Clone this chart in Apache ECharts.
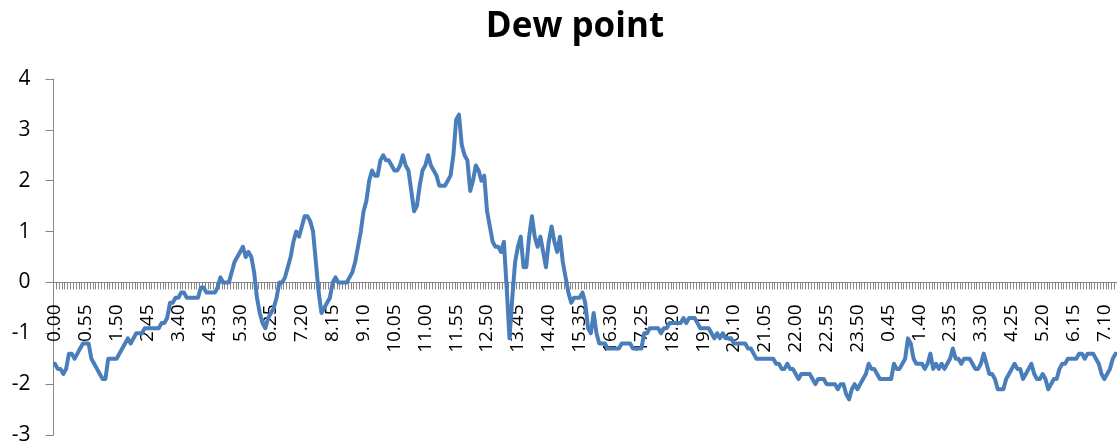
<!DOCTYPE html>
<html>
<head>
<meta charset="utf-8">
<script src="https://cdn.jsdelivr.net/npm/echarts@6/dist/echarts.min.js"></script>
<style>
  html, body { margin: 0; padding: 0; background: #fff; }
  #chart { width: 1117px; height: 448px; }
</style>
</head>
<body>
<div id="chart"></div>
<script>
// dew point readings, one every 5 minutes starting at 0:00
const dewPoint = [
  -1.6, -1.7, -1.7, -1.8, -1.7, -1.4, -1.4, -1.5, -1.4, -1.3,
  -1.2, -1.2, -1.2, -1.5, -1.6, -1.7, -1.8, -1.9, -1.9, -1.5,
  -1.5, -1.5, -1.5, -1.4, -1.3, -1.2, -1.1, -1.2, -1.1, -1.0,
  -1.0, -1.0, -0.9, -0.9, -0.9, -0.9, -0.9, -0.9, -0.8, -0.8,
  -0.7, -0.4, -0.4, -0.3, -0.3, -0.2, -0.2, -0.3, -0.3, -0.3,
  -0.3, -0.3, -0.1, -0.1, -0.2, -0.2, -0.2, -0.2, -0.1, 0.1,
  0.0, 0.0, 0.0, 0.2, 0.4, 0.5, 0.6, 0.7, 0.5, 0.6,
  0.5, 0.2, -0.3, -0.6, -0.8, -0.9, -0.7, -0.6, -0.5, -0.3,
  0.0, 0.0, 0.1, 0.3, 0.5, 0.8, 1.0, 0.9, 1.1, 1.3,
  1.3, 1.2, 1.0, 0.4, -0.2, -0.6, -0.5, -0.4, -0.3, 0.0,
  0.1, 0.0, 0.0, 0.0, 0.0, 0.1, 0.2, 0.4, 0.7, 1.0,
  1.4, 1.6, 2.0, 2.2, 2.1, 2.1, 2.4, 2.5, 2.4, 2.4,
  2.3, 2.2, 2.2, 2.3, 2.5, 2.3, 2.2, 1.8, 1.4, 1.5,
  1.9, 2.2, 2.3, 2.5, 2.3, 2.2, 2.1, 1.9, 1.9, 1.9,
  2.0, 2.1, 2.5, 3.2, 3.3, 2.7, 2.5, 2.4, 1.8, 2.0,
  2.3, 2.2, 2.0, 2.1, 1.4, 1.1, 0.8, 0.7, 0.7, 0.6,
  0.8, -0.1, -1.1, -0.3, 0.4, 0.7, 0.9, 0.3, 0.3, 0.9,
  1.3, 0.9, 0.7, 0.9, 0.6, 0.3, 0.8, 1.1, 0.8, 0.6,
  0.9, 0.4, 0.1, -0.2, -0.4, -0.3, -0.3, -0.3, -0.2, -0.4,
  -0.9, -1.0, -0.6, -1.0, -1.2, -1.2, -1.2, -1.3, -1.3, -1.3,
  -1.3, -1.3, -1.2, -1.2, -1.2, -1.2, -1.3, -1.3, -1.3, -1.3,
  -1.0, -1.0, -0.9, -0.9, -0.9, -0.9, -1.0, -0.9, -0.9, -0.8,
  -0.8, -0.8, -0.8, -0.8, -0.7, -0.8, -0.7, -0.7, -0.7, -0.8,
  -0.9, -0.9, -0.9, -0.9, -1.0, -1.1, -1.0, -1.1, -1.0, -1.1,
  -1.1, -1.1, -1.2, -1.2, -1.2, -1.2, -1.2, -1.3, -1.3, -1.4,
  -1.5, -1.5, -1.5, -1.5, -1.5, -1.5, -1.5, -1.6, -1.6, -1.7,
  -1.7, -1.6, -1.7, -1.7, -1.8, -1.9, -1.8, -1.8, -1.8, -1.8,
  -1.9, -2.0, -1.9, -1.9, -1.9, -2.0, -2.0, -2.0, -2.0, -2.1,
  -2.0, -2.0, -2.2, -2.3, -2.1, -2.0, -2.1, -2.0, -1.9, -1.8,
  -1.6, -1.7, -1.7, -1.8, -1.9, -1.9, -1.9, -1.9, -1.9, -1.6,
  -1.7, -1.7, -1.6, -1.5, -1.1, -1.2, -1.5, -1.6, -1.6, -1.6,
  -1.7, -1.6, -1.4, -1.7, -1.6, -1.7, -1.6, -1.7, -1.6, -1.5,
  -1.3, -1.5, -1.5, -1.6, -1.5, -1.5, -1.5, -1.6, -1.7, -1.7,
  -1.6, -1.4, -1.6, -1.8, -1.8, -1.9, -2.1, -2.1, -2.1, -1.9,
  -1.8, -1.7, -1.6, -1.7, -1.7, -1.9, -1.8, -1.7, -1.6, -1.8,
  -1.9, -1.9, -1.8, -1.9, -2.1, -2.0, -1.9, -1.9, -1.7, -1.6,
  -1.6, -1.5, -1.5, -1.5, -1.5, -1.4, -1.4, -1.5, -1.4, -1.4,
  -1.4, -1.5, -1.6, -1.8, -1.9, -1.8, -1.7, -1.5, -1.4
]

const startMinutes = 0
const stepMinutes = 5
const labelEvery = 11
const yTicks = { min: -3, max: 4, interval: 1 }

// time labels like Excel shows them: 0.00, 0.55, 13.45 ...
const times = dewPoint.map((_v, i) => {
  const t = (startMinutes + i * stepMinutes) % (24 * 60)
  const h = Math.floor(t / 60)
  const m = t % 60
  return h + '.' + (m < 10 ? '0' + m : m)
})

const axisGray = '#868686'
const labelFont = '"Open Sans", "Noto Sans", sans-serif'

const gridTop = 79
const gridBottom = 13
const plotHeight = 448 - gridTop - gridBottom
// x axis crosses at 0: lift it from the bottom edge by the -3..0 share
const zeroLift = plotHeight * (0 - yTicks.min) / (yTicks.max - yTicks.min)

const chart = echarts.init(document.getElementById('chart'))
chart.setOption({
  animation: false,
  title: {
    text: 'Dew point',
    left: 570,
    textAlign: 'center',
    top: 5,
    textStyle: {
      fontFamily: labelFont,
      fontWeight: 'bold',
      fontSize: 35,
      color: '#000'
    }
  },
  grid: {
    left: 53.5,
    right: 0,
    top: gridTop,
    bottom: gridBottom,
    outerBoundsMode: 'none',
    containLabel: false
  },
  xAxis: {
    type: 'category',
    data: times,
    boundaryGap: true,
    position: 'bottom',
    offset: -zeroLift,
    axisLine: {
      onZero: false,
      lineStyle: { color: axisGray, width: 1 }
    },
    axisTick: {
      show: true,
      interval: 0,
      length: 7,
      lineStyle: { color: axisGray, width: 1 }
    },
    axisLabel: {
      interval: labelEvery - 1,
      rotate: 90,
      margin: 22,
      fontFamily: labelFont,
      fontSize: 19,
      color: '#000'
    },
    splitLine: { show: false }
  },
  yAxis: {
    type: 'value',
    min: yTicks.min,
    max: yTicks.max,
    interval: yTicks.interval,
    axisLine: {
      show: true,
      lineStyle: { color: axisGray, width: 1 }
    },
    axisTick: {
      show: true,
      length: 8,
      lineStyle: { color: axisGray, width: 1 }
    },
    axisLabel: {
      margin: 23,
      fontFamily: labelFont,
      fontSize: 21,
      color: '#000'
    },
    splitLine: { show: false }
  },
  series: [
    {
      type: 'line',
      data: dewPoint,
      showSymbol: false,
      smooth: false,
      lineStyle: {
        color: '#4A7EBB',
        width: 4,
        join: 'round',
        cap: 'round'
      }
    }
  ]
})
</script>
</body>
</html>
